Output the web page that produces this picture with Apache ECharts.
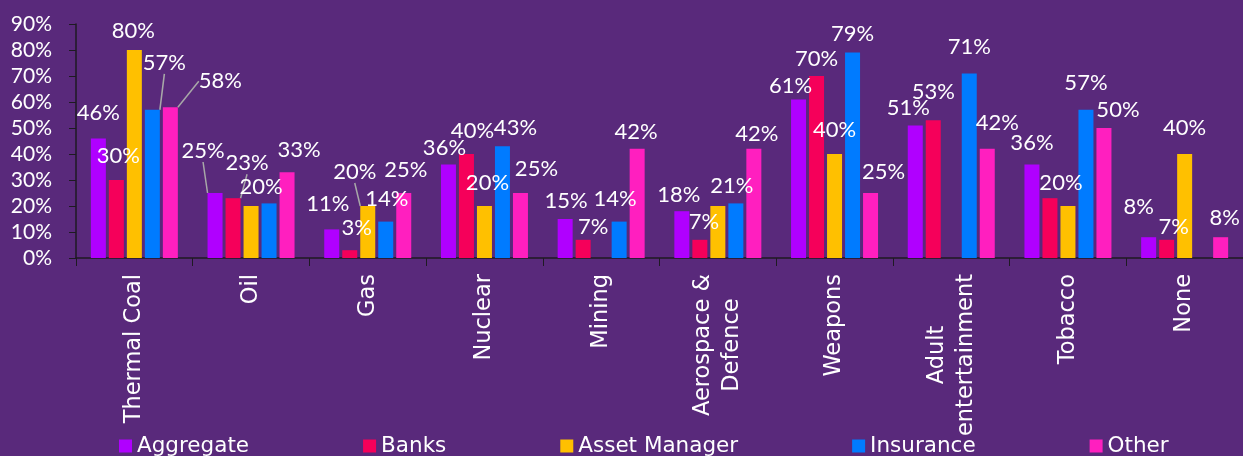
<!DOCTYPE html>
<html>
<head>
<meta charset="utf-8">
<script src="https://cdn.jsdelivr.net/npm/echarts@6/dist/echarts.min.js"></script>
<style>
  html, body { margin: 0; padding: 0; background: #59297b; }
  #chart { width: 1243px; height: 456px; }
</style>
</head>
<body>
<div id="chart"></div>
<script>
var categories = ['Thermal Coal', 'Oil', 'Gas', 'Nuclear', 'Mining',
	'Aerospace &\nDefence', 'Weapons', 'Adult\nentertainment', 'Tobacco', 'None'];

var aggregate    = [46, 25, 11, 36, 15, 18, 61, 51, 36, 8];
var banks        = [30, 23, 3, 40, 7, 7, 70, 53, 23, 7];
var assetManager = [80, 20, 20, 20, null, 20, 40, null, 20, 40];
var insurance    = [57, 21, 14, 43, 14, 21, 79, 71, 57, null];
var other        = [58, 33, 25, 25, 42, 42, 25, 42, 50, 8];

var yTicks = [0, 10, 20, 30, 40, 50, 60, 70, 80, 90];

// label nudges (dx, dy) per series / category, as placed in the original
var nudge = [
	[[0, 0], [-12, -17], [-4, 0], [-4, 9], [1, 7], [-3, 9], [-8, 12], [-7, 8], [0, 4], [-10, -5]],
	[[2, 1], [14, -10], [7, 3], [6, 2], [10, 12], [4, 7], [0, 8], [0, -3], null, [7, 12]],
	[[-1, 6], [10, 6], [-13, -9], [3, 2], null, null, [0, 1], null, [-7, 2], [0, -1]],
	[[12, -22], null, [1, 2], [13, 7], [-4, 2], [-4, 8], [0, 6], [0, -1], [0, -2], null],
	[[50, -1], [12, 3], [2, 2], [16, 1], [-1, 8], [3, 10], [13, 4], [10, -1], [14, 7], [4, 6]]
];
// labels not shown in the original
var hidden = { '1-8': 1, '2-5': 1, '3-1': 1 };
// labels with a leader line
var leader = { '0-1': 1, '1-1': 1, '2-2': 1, '3-0': 1, '4-0': 1 };

var names = ['Aggregate', 'Banks', 'Asset Manager', 'Insurance', 'Other'];
var colors = ['#b000ff', '#f5005a', '#ffc000', '#007bff', '#ff1fbf'];
var values = [aggregate, banks, assetManager, insurance, other];

var myChart = echarts.init(document.getElementById('chart'));

var series = values.map(function (arr, s) {
	return {
		name: names[s],
		type: 'bar',
		barWidth: 15,
		barGap: '20%',
		itemStyle: { color: colors[s] },
		label: {
			show: true,
			position: 'top',
			distance: 14,
			formatter: '{c}%',
			color: '#ffffff',
			fontFamily: 'Lato',
			fontSize: 22,
			lineHeight: 22
		},
		labelLine: {
			show: false,
			lineStyle: { color: '#a8a8a8', width: 1.5 }
		},
		labelLayout: function (p) {
			var o = nudge[p.seriesIndex][p.dataIndex];
			return o ? { dx: o[0], dy: o[1] } : {};
		},
		data: arr.map(function (v, i) {
			var key = s + '-' + i;
			if (v === null) return '-';
			var item = { value: v };
			if (hidden[key]) item.label = { show: false };
			if (leader[key]) item.labelLine = { show: true };
			return item;
		})
	};
});

myChart.setOption({
	backgroundColor: '#59297b',
	animation: false,
	grid: { left: 76, right: -4, top: 24, bottom: 198 },
	legend: {
		data: names,
		left: 114,
		top: 430,
		itemWidth: 13,
		itemHeight: 13,
		itemGap: 114,
		icon: 'rect',
		textStyle: { color: '#ffffff', fontFamily: 'DejaVu Sans', fontSize: 21.5 }
	},
	xAxis: {
		type: 'category',
		data: categories,
		axisLine: { lineStyle: { color: '#1e1a22', width: 1.5 } },
		axisTick: { show: true, length: 8, lineStyle: { color: '#1e1a22' } },
		axisLabel: {
			interval: 0,
			rotate: 90,
			margin: 16,
			formatter: function (v) {
				return v.split('\n').map(function (s) { return '{a|' + s + '}'; }).join('\n');
			},
			rich: {
				a: {
					align: 'center',
					color: '#ffffff',
					fontFamily: 'DejaVu Sans',
					fontSize: 22.5,
					lineHeight: 29
				}
			}
		}
	},
	yAxis: {
		type: 'value',
		min: yTicks[0],
		max: yTicks[yTicks.length - 1],
		interval: 10,
		splitLine: { show: false },
		axisLine: { show: true, lineStyle: { color: '#1e1a22', width: 1.5 } },
		axisTick: { show: true, length: 7, lineStyle: { color: '#1e1a22' } },
		axisLabel: {
			margin: 24,
			color: '#ffffff',
			fontFamily: 'Lato',
			fontSize: 21,
			formatter: '{value}%'
		}
	},
	series: series
});
</script>
</body>
</html>
